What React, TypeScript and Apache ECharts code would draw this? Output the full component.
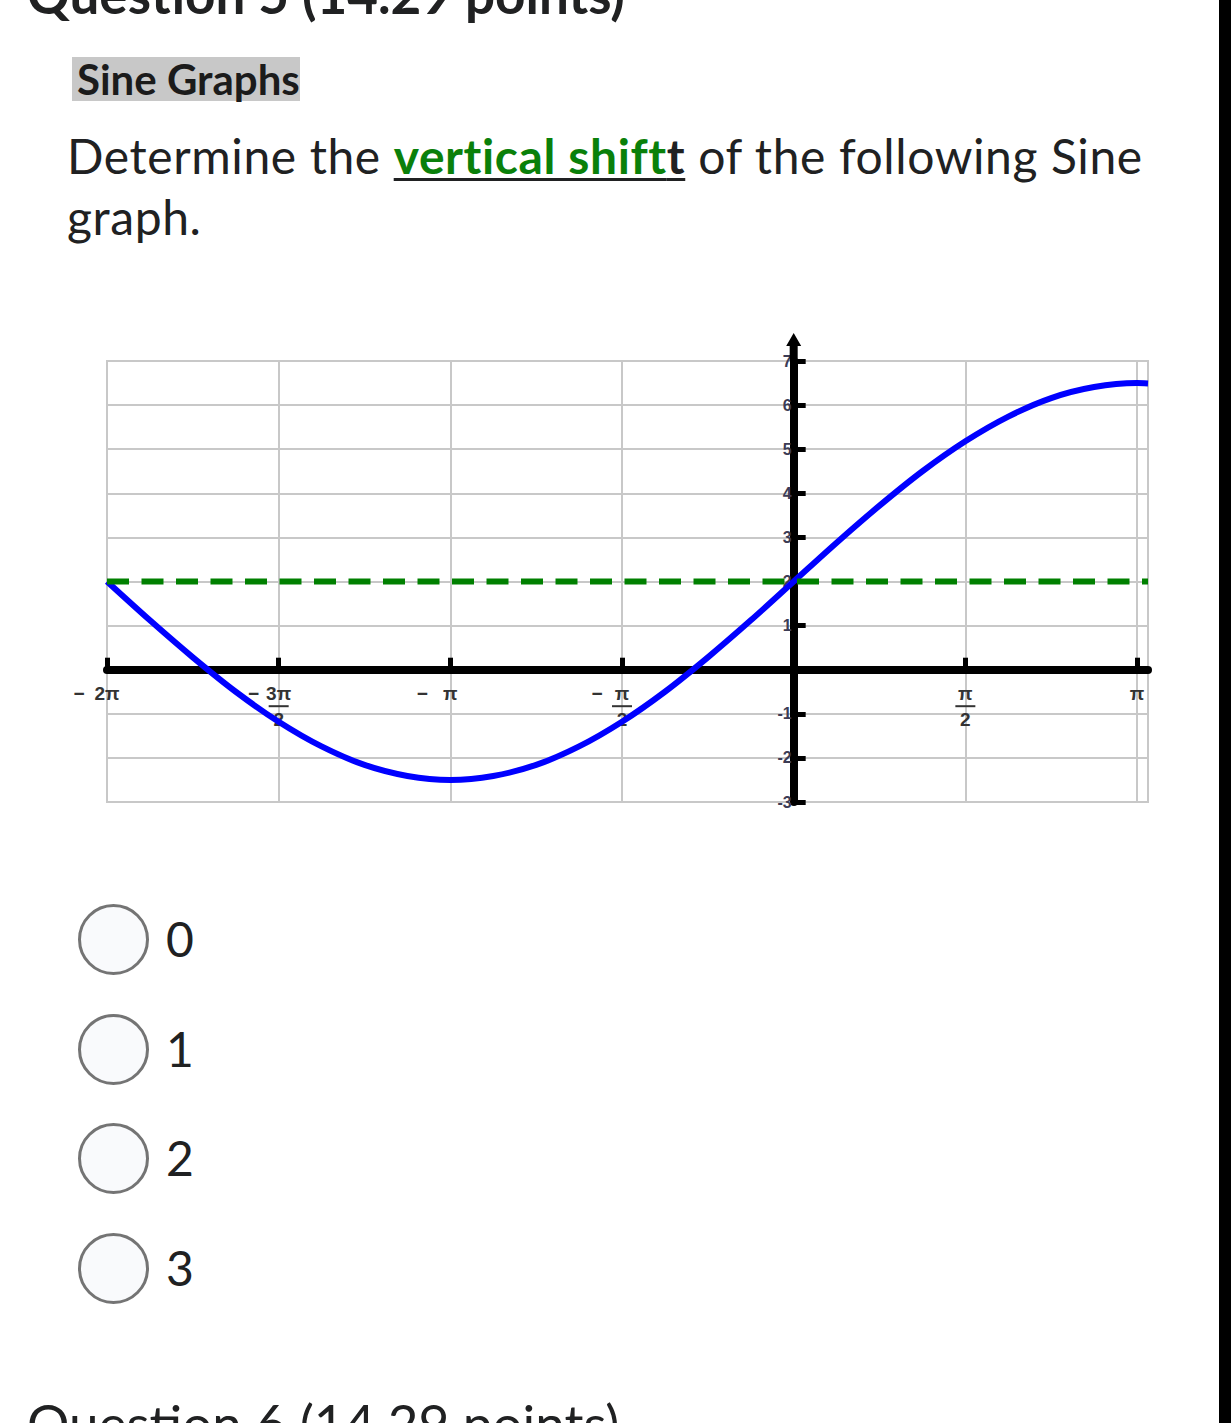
import React, { useEffect, useRef } from 'react';
import * as echarts from 'echarts';

const PI = Math.PI;

// x axis ticks, in multiples of pi/2, and their labels
const xTickPiHalves = [-4, -3, -2, -1, 0, 1, 2];
const xTickLabels = ['− 2π', '− 3π/2', '− π', '− π/2', '', 'π/2', 'π'];
const xMinRad = -2 * PI;
const xMaxRad = 3.242;

// y axis
const yMin = -3;
const yMax = 7;
const yStep = 1;

// curve, x in multiples of pi/8
const curveXPiEighths = [-16, -15, -14, -13, -12, -11, -10, -9, -8, -7, -6, -5, -4, -3, -2, -1, 0, 1, 2, 3, 4, 5, 6, 7, 8, 8.256];
const curveY = [2.0, 1.12, 0.28, -0.5, -1.18, -1.74, -2.16, -2.41, -2.5, -2.41, -2.16, -1.74, -1.18, -0.5, 0.28, 1.12, 2.0, 2.88, 3.72, 4.5, 5.18, 5.74, 6.16, 6.41, 6.5, 6.49];

// dashed midline
const midlineY = 2;

// answer choices
const answerChoices = ['0', '1', '2', '3'];

const xTickVals = xTickPiHalves.map((k) => (k * PI) / 2);

const GRID_LEFT = 107;
const GRID_TOP = 61;
const GRID_W = 1041;
const GRID_H = 441;

// put axes through the origin (offsets from the grid edges, from the axis extents)
const xAxisOffset = -GRID_H * ((0 - yMin) / (yMax - yMin));
const yAxisOffset = -GRID_W * ((0 - xMinRad) / (xMaxRad - xMinRad));

const LABEL_COLOR = '#333';

function xLabelFormatter(value: number) {
  let idx = -1;
  xTickVals.forEach((v, i) => {
    if (Math.abs(v - value) < 1e-6) idx = i;
  });
  if (idx < 0) return '';
  const s = xTickLabels[idx];
  if (!s) return '';
  let neg = false;
  let body = s;
  if (body.startsWith('− ')) {
    neg = true;
    body = body.slice(2);
  }
  const pre = neg ? '{m|−}' : '';
  const post = neg ? '{s|}' : '';
  if (body.includes('/')) {
    const [num, den] = body.split('/');
    return (
      `${pre}{n|${num}}${post}\n` +
      `${neg ? '{s2|}' : ''}{bar|}${neg ? '{s2|}' : ''}\n` +
      `${neg ? '{s|}' : ''}{n|${den}}${post}`
    );
  }
  return `${pre}{w|${body}}${post}`;
}

const baseTok = {
  fontSize: 19,
  fontWeight: 'bold' as const,
  color: LABEL_COLOR,
  fontFamily: 'Liberation Sans',
  align: 'center' as const,
  lineHeight: 19,
};

const option = {
  animation: false,
  textStyle: { fontFamily: 'Liberation Sans' },
  grid: {
    left: GRID_LEFT,
    top: GRID_TOP,
    width: GRID_W,
    height: GRID_H,
    outerBoundsMode: 'none',
    containLabel: false,
    show: true,
    borderColor: '#c8c8c8',
    borderWidth: 2,
    backgroundColor: 'transparent',
  },
  xAxis: {
    type: 'value',
    min: xMinRad,
    max: xMaxRad,
    interval: PI / 2,
    position: 'bottom',
    offset: xAxisOffset,
    axisLine: { show: true, onZero: false, lineStyle: { color: '#000', width: 8 } },
    axisTick: {
      show: true,
      inside: true,
      length: 12,
      customValues: xTickVals,
      lineStyle: { color: '#000', width: 5 },
    },
    axisLabel: {
      customValues: xTickVals,
      margin: 14,
      formatter: xLabelFormatter,
      rich: {
        m: { ...baseTok, width: 22 },
        n: { ...baseTok, width: 28 },
        w: { ...baseTok, width: 34 },
        s: { ...baseTok, width: 22 },
        s2: { ...baseTok, width: 22, lineHeight: 7 },
        bar: { width: 20, height: 2, lineHeight: 7, align: 'center', backgroundColor: LABEL_COLOR },
      },
    },
    splitLine: { show: true, lineStyle: { color: '#c8c8c8', width: 2 } },
  },
  yAxis: {
    type: 'value',
    min: yMin,
    max: yMax,
    interval: yStep,
    position: 'left',
    offset: yAxisOffset,
    axisLine: {
      show: true,
      onZero: false,
      symbol: ['none', 'path://M7.5,0L15,13L11.5,13L11.5,28L3.5,28L3.5,13L0,13Z'],
      symbolSize: [15, 28],
      symbolOffset: [0, 14],
      lineStyle: { color: '#000', width: 8 },
    },
    axisTick: { show: true, inside: true, length: 12, lineStyle: { color: '#000', width: 5 } },
    axisLabel: {
      margin: 2,
      fontSize: 16,
      fontWeight: 'bold',
      color: '#3c3c55',
      formatter: (v: number) => (v === 0 ? '' : String(v)),
    },
    splitLine: { show: true, lineStyle: { color: '#c8c8c8', width: 2 } },
  },
  series: [
    {
      type: 'line',
      data: curveXPiEighths.map((k, i) => [(k * PI) / 8, curveY[i]]),
      smooth: 0.3,
      showSymbol: false,
      symbol: 'none',
      lineStyle: { color: '#0000ff', width: 6 },
      z: 3,
    },
    {
      type: 'line',
      data: [
        [xMinRad, midlineY],
        [xMaxRad, midlineY],
      ],
      showSymbol: false,
      symbol: 'none',
      lineStyle: { color: '#008000', width: 6, type: [22, 12.5] },
      z: 4,
    },
  ],
};

export default function App() {
  const ref = useRef<HTMLDivElement>(null);
  useEffect(() => {
    const chart = echarts.init(ref.current as HTMLDivElement, null, { renderer: 'svg' });
    chart.setOption(option as any);
    return () => chart.dispose();
  }, []);

  const textColor = '#202122';
  return (
    <div
      style={{
        position: 'absolute',
        left: 0,
        top: 0,
        width: 1231,
        height: 1423,
        overflow: 'hidden',
        background: '#fff',
        fontFamily: 'Lato, sans-serif',
        color: textColor,
      }}
    >
      <div style={{ position: 'absolute', left: 27, top: -33, fontSize: 53, lineHeight: '53px', fontWeight: 700, whiteSpace: 'nowrap' }}>
        Question 5 (14.29 points)
      </div>
      <div style={{ position: 'absolute', left: 72, top: 57, width: 228, height: 44, background: '#c8c8c8' }}>
        <span style={{ display: 'block', paddingLeft: 5, fontSize: 42, lineHeight: '44px', fontWeight: 700, color: '#1b1b1b', whiteSpace: 'nowrap' }}>
          Sine Graphs
        </span>
      </div>
      <div
        style={{
          position: 'absolute',
          left: 67,
          top: 125,
          fontSize: 48,
          lineHeight: '61px',
          letterSpacing: 0.6,
          whiteSpace: 'nowrap',
        }}
      >
        Determine the{' '}
        <span
          style={{
            textDecoration: 'underline',
            textDecorationColor: textColor,
            textDecorationThickness: 3,
            textUnderlineOffset: 4,
            fontWeight: 700,
          }}
        >
          <span style={{ color: '#0a800a' }}>vertical shift</span>t
        </span>{' '}
        of the following Sine
        <br />
        graph.
      </div>
      <div ref={ref} style={{ position: 'absolute', left: 0, top: 300, width: 1219, height: 540 }} />
      {answerChoices.map((c, i) => (
        <React.Fragment key={c}>
          <div
            style={{
              position: 'absolute',
              left: 78,
              top: 904 + i * 109.5,
              width: 71,
              height: 71,
              boxSizing: 'border-box',
              border: '3.5px solid #747474',
              borderRadius: '50%',
              background: '#f9fafc',
            }}
          />
          <div style={{ position: 'absolute', left: 166, top: 908 + i * 109.5, fontSize: 48, lineHeight: '61px', whiteSpace: 'nowrap' }}>
            {c}
          </div>
        </React.Fragment>
      ))}
      <div style={{ position: 'absolute', left: 27, top: 1396, fontSize: 53, lineHeight: '53px', whiteSpace: 'nowrap' }}>
        Question 6 (14.29 points)
      </div>
      <div style={{ position: 'absolute', left: 1219, top: 0, width: 12, height: 1423, background: '#000' }} />
    </div>
  );
}
